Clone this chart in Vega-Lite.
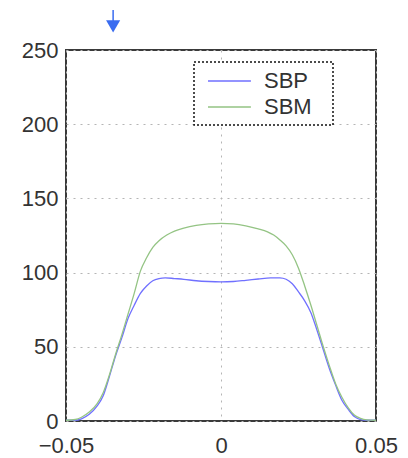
{
  "$schema": "https://vega.github.io/schema/vega-lite/v6.json",
  "width": 310,
  "height": 371,
  "autosize": {"type": "none"},
  "padding": {"left": 66, "top": 50, "right": 32, "bottom": 37},
  "background": "white",
  "config": {
    "view": {"stroke": "#3a3a3a", "strokeWidth": 2},
    "font": "Liberation Sans",
    "axis": {
      "domain": false,
      "ticks": false,
      "labelFont": "Liberation Sans",
      "labelFontSize": 22,
      "labelColor": "#333333",
      "gridColor": "#b5b5b5",
      "gridDash": [2, 5],
      "gridWidth": 1,
      "title": null
    }
  },
  "datasets": {
    "curves": [
      {"x": -0.05, "y": 0.5, "s": "SBP"},
      {"x": -0.047, "y": 0.5, "s": "SBP"},
      {"x": -0.045, "y": 1.5, "s": "SBP"},
      {"x": -0.0425, "y": 4.5, "s": "SBP"},
      {"x": -0.04, "y": 10, "s": "SBP"},
      {"x": -0.038, "y": 17, "s": "SBP"},
      {"x": -0.036, "y": 30, "s": "SBP"},
      {"x": -0.034, "y": 44, "s": "SBP"},
      {"x": -0.032, "y": 56, "s": "SBP"},
      {"x": -0.03, "y": 69, "s": "SBP"},
      {"x": -0.028, "y": 78, "s": "SBP"},
      {"x": -0.026, "y": 86, "s": "SBP"},
      {"x": -0.024, "y": 91, "s": "SBP"},
      {"x": -0.022, "y": 94.5, "s": "SBP"},
      {"x": -0.02, "y": 96, "s": "SBP"},
      {"x": -0.018, "y": 96.5, "s": "SBP"},
      {"x": -0.015, "y": 96, "s": "SBP"},
      {"x": -0.012, "y": 95.5, "s": "SBP"},
      {"x": -0.008, "y": 94.5, "s": "SBP"},
      {"x": -0.004, "y": 94, "s": "SBP"},
      {"x": 0, "y": 93.8, "s": "SBP"},
      {"x": 0.004, "y": 94, "s": "SBP"},
      {"x": 0.008, "y": 94.8, "s": "SBP"},
      {"x": 0.012, "y": 95.7, "s": "SBP"},
      {"x": 0.016, "y": 96.5, "s": "SBP"},
      {"x": 0.019, "y": 96.5, "s": "SBP"},
      {"x": 0.021, "y": 95.5, "s": "SBP"},
      {"x": 0.023, "y": 92.5, "s": "SBP"},
      {"x": 0.025, "y": 87, "s": "SBP"},
      {"x": 0.027, "y": 81, "s": "SBP"},
      {"x": 0.029, "y": 73, "s": "SBP"},
      {"x": 0.031, "y": 61, "s": "SBP"},
      {"x": 0.033, "y": 48, "s": "SBP"},
      {"x": 0.035, "y": 35, "s": "SBP"},
      {"x": 0.037, "y": 24, "s": "SBP"},
      {"x": 0.039, "y": 14, "s": "SBP"},
      {"x": 0.041, "y": 8, "s": "SBP"},
      {"x": 0.043, "y": 3, "s": "SBP"},
      {"x": 0.045, "y": 1, "s": "SBP"},
      {"x": 0.047, "y": 0.5, "s": "SBP"},
      {"x": 0.05, "y": 0.5, "s": "SBP"},
      {"x": -0.05, "y": 0.5, "s": "SBM"},
      {"x": -0.047, "y": 1, "s": "SBM"},
      {"x": -0.045, "y": 2.5, "s": "SBM"},
      {"x": -0.0425, "y": 6, "s": "SBM"},
      {"x": -0.04, "y": 11.5, "s": "SBM"},
      {"x": -0.038, "y": 19, "s": "SBM"},
      {"x": -0.036, "y": 31, "s": "SBM"},
      {"x": -0.034, "y": 45, "s": "SBM"},
      {"x": -0.032, "y": 58, "s": "SBM"},
      {"x": -0.03, "y": 72, "s": "SBM"},
      {"x": -0.028, "y": 86, "s": "SBM"},
      {"x": -0.026, "y": 101, "s": "SBM"},
      {"x": -0.024, "y": 110, "s": "SBM"},
      {"x": -0.022, "y": 117, "s": "SBM"},
      {"x": -0.02, "y": 121.5, "s": "SBM"},
      {"x": -0.0175, "y": 125.3, "s": "SBM"},
      {"x": -0.015, "y": 128, "s": "SBM"},
      {"x": -0.012, "y": 130, "s": "SBM"},
      {"x": -0.008, "y": 131.8, "s": "SBM"},
      {"x": -0.004, "y": 132.8, "s": "SBM"},
      {"x": 0, "y": 133.2, "s": "SBM"},
      {"x": 0.004, "y": 132.8, "s": "SBM"},
      {"x": 0.008, "y": 131.5, "s": "SBM"},
      {"x": 0.012, "y": 129.5, "s": "SBM"},
      {"x": 0.015, "y": 127.5, "s": "SBM"},
      {"x": 0.017, "y": 125.3, "s": "SBM"},
      {"x": 0.019, "y": 122, "s": "SBM"},
      {"x": 0.021, "y": 118, "s": "SBM"},
      {"x": 0.023, "y": 112, "s": "SBM"},
      {"x": 0.025, "y": 103, "s": "SBM"},
      {"x": 0.027, "y": 91, "s": "SBM"},
      {"x": 0.029, "y": 78, "s": "SBM"},
      {"x": 0.031, "y": 64, "s": "SBM"},
      {"x": 0.033, "y": 50, "s": "SBM"},
      {"x": 0.035, "y": 37, "s": "SBM"},
      {"x": 0.037, "y": 25, "s": "SBM"},
      {"x": 0.039, "y": 16, "s": "SBM"},
      {"x": 0.041, "y": 9, "s": "SBM"},
      {"x": 0.043, "y": 4, "s": "SBM"},
      {"x": 0.045, "y": 1.8, "s": "SBM"},
      {"x": 0.047, "y": 0.8, "s": "SBM"},
      {"x": 0.05, "y": 0.5, "s": "SBM"}
    ],
    "marker": [
      {"x": -0.0348, "y": 266, "y2": 277}
    ]
  },
  "layer": [
    {
      "data": {"name": "curves"},
      "mark": {"type": "line", "strokeWidth": 1.3, "interpolate": "monotone"},
      "encoding": {
        "x": {
          "field": "x",
          "type": "quantitative",
          "scale": {"domain": [-0.05, 0.05], "nice": false, "zero": false},
          "axis": {"values": [-0.05, 0, 0.05], "format": ".2~f", "labelPadding": 14, "labelFlush": false, "labelOverlap": false}
        },
        "y": {
          "field": "y",
          "type": "quantitative",
          "scale": {"domain": [0, 250], "nice": false},
          "axis": {"values": [0, 50, 100, 150, 200, 250], "labelPadding": 8}
        },
        "color": {
          "field": "s",
          "type": "nominal",
          "scale": {"domain": ["SBP", "SBM"], "range": ["#7070ff", "#94c484"]},
          "legend": {
            "title": null,
            "orient": "none",
            "legendX": 128,
            "legendY": 12,
            "symbolType": "M-1,0H2.9M9.4,0H9.401",
            "symbolSize": 484,
            "symbolStrokeWidth": 1.5,
            "symbolOffset": 6,
            "labelFontSize": 22,
            "labelFont": "Liberation Sans",
            "labelColor": "#333333",
            "labelOffset": 33,
            "rowPadding": 3,
            "padding": 7,
            "strokeColor": "#111111",
            "fillColor": "white",
            "encode": {
              "legend": {"update": {"strokeDash": {"value": [2, 2]}, "strokeWidth": {"value": 1.5}}}
            }
          }
        }
      }
    },
    {
      "data": {"name": "marker"},
      "mark": {"type": "rule", "color": "#3a6cf0", "strokeWidth": 1.5},
      "encoding": {
        "x": {"field": "x", "type": "quantitative"},
        "y": {"field": "y", "type": "quantitative"},
        "y2": {"field": "y2"}
      }
    },
    {
      "data": {"name": "marker"},
      "mark": {"type": "point", "shape": "triangle-down", "filled": true, "color": "#3a6cf0", "size": 200, "opacity": 1},
      "encoding": {
        "x": {"field": "x", "type": "quantitative"},
        "y": {"field": "y", "type": "quantitative"}
      }
    }
  ]
}
